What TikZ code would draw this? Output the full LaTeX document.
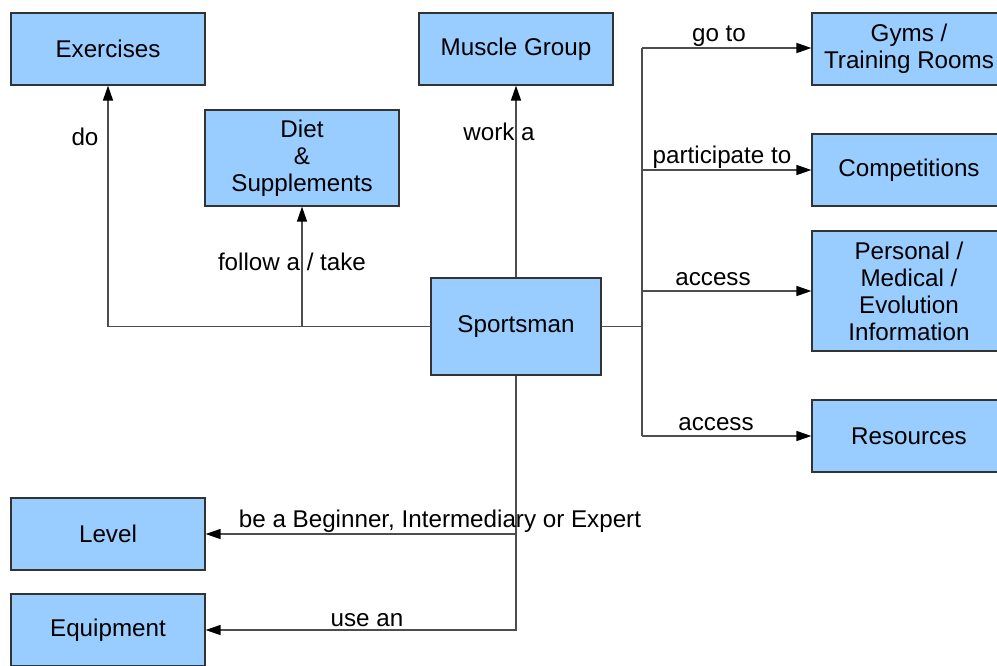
\documentclass[tikz,border=0pt]{standalone}
\usepackage{fontspec}
\setmainfont{Liberation Sans}
\usetikzlibrary{arrows.meta}
\definecolor{boxfill}{HTML}{99CCFF}
\definecolor{boxline}{HTML}{333333}
\definecolor{conn}{HTML}{4D4D4D}
\begin{document}
\begin{tikzpicture}[x=1pt,y=-1pt,
  font=\fontsize{24.2}{27}\selectfont,
  box/.style={draw=boxline,fill=boxfill,line width=1.2pt,minimum width=194pt,minimum height=72pt,inner sep=0pt,align=center,text=black},
  conline/.style={draw=conn,line width=1.3pt},
  arr/.style={conline,-{Triangle[length=15pt,width=10pt,fill=black,color=black]}},
  lbl/.style={inner sep=0pt,text=black}]
\useasboundingbox (0,0) rectangle (997,665);
\node[box] (ex) at (108,49) {Exercises};
\node[box] (mg) at (516,49) {Muscle Group};
\node[box,minimum height=96pt] (diet) at (302,158) {Diet\\\&\\Supplements};
\node[box] (gym) at (909,49) {Gyms /\\Training Rooms};
\node[box] (comp) at (909,170) {Competitions};
\node[box,minimum height=120pt] (pers) at (909,291) {Personal /\\Medical /\\Evolution\\Information};
\node[box] (res) at (909,436) {Resources};
\node[box,minimum width=170pt,minimum height=97pt] (sp) at (516,326.5) {Sportsman};
\node[box] (lv) at (108,534) {Level};
\node[box] (eq) at (108,630) {Equipment};
% left
\coordinate (jd) at (302,326.5);
\draw[arr] (sp.west) -| (ex.south);
\draw[arr] (jd) -- (diet.south);
% top
\draw[arr] (sp.north) -- (mg.south);
% right
\coordinate (jr) at (642,326.5);
\coordinate (rtop) at (642,48);
\coordinate (rbot) at (642,436);
\draw[conline] (sp.east) -- (jr);
\draw[conline] (rtop) -- (rbot);
\draw[arr] (rtop) -- (gym.west |- rtop);
\draw[arr] (jr |- comp.west) -- (comp.west);
\draw[arr] (jr |- pers.west) -- (pers.west);
\draw[arr] (rbot) -- (res.west);
% bottom
\draw[arr] (sp.south) |- (eq.east);
\draw[arr] (sp.south |- lv.east) -- (lv.east);
% labels
\node[lbl] (l1) at (85,137) {do};
\node[lbl] (l2) at (292,262) {follow a / take};
\node[lbl] (l3) at (499,132) {work a};
\node[lbl] (l4) at (719,36) {go to};
\node[lbl] (l5) at (722,157) {participate to};
\node[lbl] (l6) at (713,279) {access};
\node[lbl] (l7) at (716,424) {access};
\node[lbl] (l8) at (440,521) {be a Beginner, Intermediary or Expert};
\node[lbl] (l9) at (367,620) {use an};
\end{tikzpicture}
\end{document}
